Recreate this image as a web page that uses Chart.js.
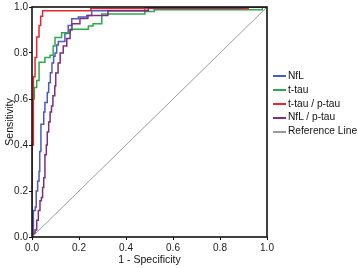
<!DOCTYPE html>
<html>
<head>
<meta charset="utf-8">
<script src="https://cdn.jsdelivr.net/npm/chart.js@4"></script>
<style>
  html, body { margin: 0; padding: 0; background: #fff; }
  #wrap { position: relative; width: 358px; height: 268px; }
  #legend { position: absolute; left: 273px; top: 69px; margin: 0; padding: 0; list-style: none;
            font: 10.2px "Liberation Sans", Arial, sans-serif; color: #111; }
  #legend li { height: 13.8px; line-height: 13.8px; white-space: nowrap; }
  #legend i { display: inline-block; width: 13px; height: 2px; vertical-align: middle; margin-right: 2px; }
</style>
</head>
<body>
<div id="wrap">
  <canvas id="chartRoc" width="358" height="268"></canvas>
  <ul id="legend"></ul>
</div>
<script>
/* ------------------------------
 * ROC data (1 - specificity / sensitivity)
 * ------------------------------ */
const seriesNames = ['NfL', 't-tau', 't-tau / p-tau', 'NfL / p-tau', 'Reference Line'];
const seriesColors = ['#4b5cc0', '#2fa84a', '#e8282e', '#7b2f7d', '#9a9aa0'];

const fprNfl = [0, 0.006, 0.014, 0.018, 0.024, 0.030, 0.033, 0.038, 0.050, 0.055, 0.065, 0.071, 0.078, 0.085, 0.092, 0.098, 0.105, 0.112, 0.140, 0.154, 0.169, 0.197, 0.233, 0.254, 0.480, 0.750, 1.0];
const tprNfl = [0, 0.115, 0.130, 0.200, 0.244, 0.285, 0.372, 0.490, 0.543, 0.585, 0.628, 0.671, 0.714, 0.756, 0.786, 0.800, 0.835, 0.850, 0.885, 0.920, 0.949, 0.956, 0.963, 0.984, 0.996, 1.0, 1.0];

const fprTtau = [0, 0, 0.010, 0.020, 0.030, 0.055, 0.077, 0.090, 0.098, 0.126, 0.162, 0.240, 0.260, 0.297, 0.480, 0.520, 0.980, 1.0];
const tprTtau = [0, 0.600, 0.650, 0.680, 0.760, 0.780, 0.790, 0.830, 0.867, 0.888, 0.903, 0.917, 0.927, 0.970, 0.980, 0.988, 1.0, 1.0];

const fprTtauPtau = [0, 0, 0.006, 0.013, 0.020, 0.030, 0.037, 0.045, 0.250, 0.920, 1.0];
const tprTtauPtau = [0, 0.400, 0.697, 0.780, 0.870, 0.920, 0.960, 0.984, 0.994, 1.0, 1.0];

const fprNflPtau = [0, 0.005, 0.013, 0.020, 0.027, 0.034, 0.040, 0.045, 0.050, 0.055, 0.061, 0.065, 0.071, 0.077, 0.083, 0.089, 0.097, 0.101, 0.111, 0.120, 0.133, 0.148, 0.162, 0.170, 0.204, 0.238, 0.323, 0.495, 0.900, 1.0];
const tprNflPtau = [0, 0.015, 0.030, 0.073, 0.115, 0.158, 0.172, 0.215, 0.258, 0.358, 0.400, 0.457, 0.500, 0.543, 0.570, 0.614, 0.657, 0.713, 0.756, 0.800, 0.830, 0.863, 0.900, 0.927, 0.950, 0.963, 0.984, 0.996, 1.0, 1.0];

const fprRef = [0, 1];
const tprRef = [0, 1];

const axisTicks = [0, 0.2, 0.4, 0.6, 0.8, 1.0];

const FONT = '"Liberation Sans", Arial, sans-serif';
const toPts = (xs, ys) => xs.map((x, i) => ({ x, y: ys[i] }));

const curves = [
  toPts(fprNfl, tprNfl),
  toPts(fprTtau, tprTtau),
  toPts(fprTtauPtau, tprTtauPtau),
  toPts(fprNflPtau, tprNflPtau),
  toPts(fprRef, tprRef),
];

// frame drawn after the curves so the black axes sit on top
const framePlugin = {
  id: 'frame',
  afterDatasetsDraw(chart) {
    const { ctx, chartArea: a } = chart;
    ctx.save();
    ctx.strokeStyle = '#111';
    ctx.lineWidth = 1.6;
    ctx.strokeRect(a.left, a.top, a.right - a.left, a.bottom - a.top);
    ctx.restore();
  }
};

new Chart(document.getElementById('chartRoc'), {
  type: 'scatter',
  data: {
    datasets: curves.map((pts, i) => ({
      label: seriesNames[i],
      data: pts,
      showLine: true,
      stepped: i < 4 ? 'before' : false,
      borderColor: seriesColors[i],
      backgroundColor: seriesColors[i],
      borderWidth: i < 4 ? 1.5 : 1,
      pointRadius: 0,
      order: 5 - i
    }))
  },
  options: {
    responsive: false,
    animation: false,
    events: [],
    layout: { padding: { top: 3, right: 91, left: 0, bottom: 0 } },
    scales: {
      x: {
        type: 'linear', min: 0, max: 1,
        afterBuildTicks: s => { s.ticks = axisTicks.map(v => ({ value: v })); },
        afterFit: s => { s.height = 31; },
        grid: { drawOnChartArea: false, drawTicks: true, tickLength: 3, color: '#111' },
        border: { display: false },
        ticks: { padding: 2, color: '#1a1a1a', font: { family: FONT, size: 10 }, maxRotation: 0,
                 callback: v => v.toFixed(1) },
        title: { display: true, text: '1 - Specificity', color: '#111',
                 font: { family: FONT, size: 10.5 }, padding: { top: 0, bottom: 2 } }
      },
      y: {
        type: 'linear', min: 0, max: 1,
        afterBuildTicks: s => { s.ticks = axisTicks.map(v => ({ value: v })); },
        afterFit: s => { s.width = 32; },
        grid: { drawOnChartArea: false, drawTicks: true, tickLength: 3, color: '#111' },
        border: { display: false },
        ticks: { padding: 1, color: '#1a1a1a', font: { family: FONT, size: 10 },
                 callback: v => v.toFixed(1) },
        title: { display: true, text: 'Sensitivity', color: '#111',
                 font: { family: FONT, size: 10.5 }, padding: { top: 4, bottom: 0 } }
      }
    },
    plugins: { legend: { display: false }, tooltip: { enabled: false } }
  },
  plugins: [framePlugin]
});

// 범례
document.getElementById('legend').innerHTML = seriesNames.map(
  (n, i) => `<li><i style="background:${seriesColors[i]}"></i>${n}</li>`
).join('');
</script>
</body>
</html>
